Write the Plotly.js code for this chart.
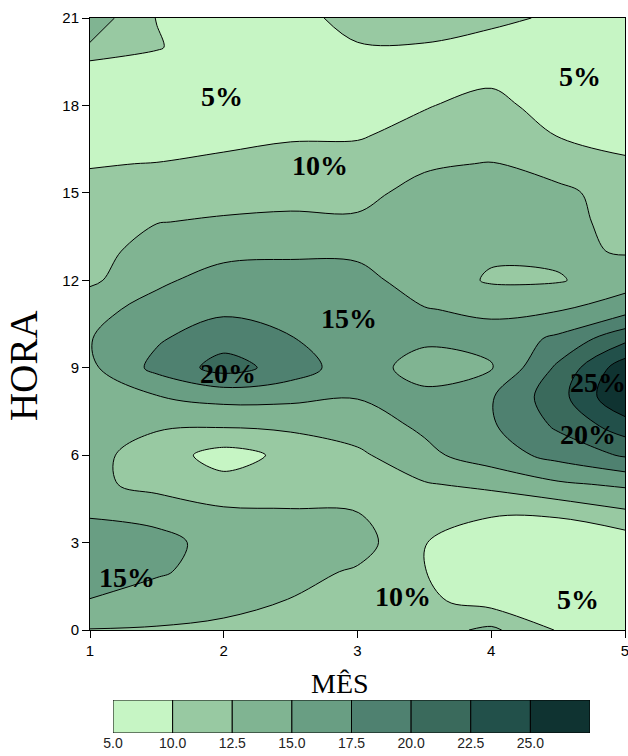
<!DOCTYPE html>
<html>
<head>
<meta charset="utf-8">
<script src="https://cdn.plot.ly/plotly-3.0.1.min.js"></script>
<style>
  html, body { margin: 0; padding: 0; background: #ffffff; }
  #chart { width: 628px; height: 756px; }
</style>
</head>
<body>
<div id="chart"></div>
<script>
// ---- data ----
const months = [1, 1.5, 2, 2.5, 3, 3.5, 4, 4.5, 5];
const hours = [0,1,2,3,4,5,6,7,8,9,10,11,12,13,14,15,16,17,18,19,20,21];

// frequency (%) along the hours, one list per month column
const zMonth1_0 = [12.4,14.9,16.2,16.0,14.8,13.0,13.3,13.6,14.0,14.5,14.9,14.3,12.0,11.8,11.3,11.0,9.8,7.0,6.5,7.5,12.2,14.0];
const zMonth1_5 = [12.3,13.8,15.3,16.0,14.0,11.8,11.2,12.8,14.9,18.2,17.2,15.8,14.6,13.3,12.45,11.2,10.1,8.0,6.5,7.5,10.3,9.9];
const zMonth2_0 = [11.8,13.5,14.0,13.8,13.0,10.8,9.0,12.7,15.8,21.0,19.0,17.0,15.9,14.4,12.7,11.8,11.0,8.5,6.0,6.5,7.5,8.5];
const zMonth2_5 = [11.5,12.4,13.3,13.5,12.8,11.0,10.6,13.0,15.6,19.0,17.6,16.5,16.0,14.6,12.8,12.0,11.5,9.5,6.0,6.5,8.0,9.0];
const zMonth3_0 = [11.2,11.8,12.2,13.6,12.55,11.5,12.0,13.8,15.1,15.8,16.5,16.3,15.7,14.6,12.8,11.9,11.2,9.7,6.5,7.5,9.8,11.0];
const zMonth3_5 = [11.5,10.5,10.1,10.1,11.2,12.3,14.4,15.4,15.4,14.3,15.3,15.1,14.0,13.9,13.6,13.2,12.2,11.0,9.8,8.0,9.8,11.2];
const zMonth4_0 = [13.0,9.0,7.0,8.0,10.3,13.1,16.3,17.2,17.3,14.8,15.8,14.6,12.2,12.9,13.8,13.5,12.6,11.5,11.0,9.3,9.0,10.6];
const zMonth4_5 = [9.8,6.0,5.5,6.6,10.6,14.6,18.3,20.4,21.5,20.5,18.0,14.8,12.3,13.0,13.5,13.3,11.0,9.9,8.5,6.0,7.0,9.6];
const zMonth5_0 = [6.0,5.5,6.0,8.5,12.0,15.4,20.3,23.8,27.5,26.5,21.8,16.5,13.8,12.3,11.5,11.0,10.4,9.0,6.5,6.0,6.5,7.5];

// contour levels and legend
const levelStart = 10.0;
const levelEnd = 25.0;
const levelStep = 2.5;
const legendLabels = ['5.0','10.0','12.5','15.0','17.5','20.0','22.5','25.0'];
const bandColors = ['#c6f5c4','#98c9a2','#80b492','#699e83','#4f8170','#3a6a5c','#22504a','#0f3331'];

const yTicks = [0,3,6,9,12,15,18,21];
const xTicks = [1,2,3,4,5];

const xTitle = 'MÊS';
const yTitle = 'HORA';

// contour labels
const labelTexts = ['5%','5%','10%','15%','20%','25%','20%','15%','10%','5%'];
const labelMonth = [1.99,4.66,2.72,2.94,2.03,4.80,4.72,1.28,3.34,4.65];
const labelHour  = [18.3,19.0,15.95,10.7,8.8,8.5,6.7,1.8,1.15,1.05];

// ---- build ----
const columns = [zMonth1_0,zMonth1_5,zMonth2_0,zMonth2_5,zMonth3_0,zMonth3_5,zMonth4_0,zMonth4_5,zMonth5_0];
const z = hours.map((h, i) => columns.map(col => col[i]));

const nb = bandColors.length;
const colorscale = [];
bandColors.forEach((c, i) => {
  const lo = Math.max(0, (i - 0.5) / (nb - 1));
  const hi = Math.min(1, (i + 0.5) / (nb - 1));
  colorscale.push([lo, c]);
  colorscale.push([hi, c]);
});

const contour = {
  type: 'contour',
  x: months,
  y: hours,
  z: z,
  xaxis: 'x',
  yaxis: 'y',
  autocontour: false,
  contours: { start: levelStart, end: levelEnd, size: levelStep, coloring: 'fill', showlines: true },
  line: { color: '#000000', width: 1, smoothing: 1 },
  colorscale: colorscale,
  showscale: false,
  hoverinfo: 'skip'
};

const legendIdx = legendLabels.map((_, i) => i);
const legendBars = {
  type: 'bar',
  x: legendIdx,
  y: legendIdx.map(() => 1),
  width: legendIdx.map(() => 1),
  xaxis: 'x2',
  yaxis: 'y2',
  marker: { color: bandColors, line: { color: '#000000', width: 1 } },
  cliponaxis: false,
  hoverinfo: 'skip',
  showlegend: false
};

const serif = '"Liberation Serif", "Times New Roman", serif';
const sans = '"Liberation Sans", Arial, sans-serif';

const annotations = labelTexts.map((t, i) => ({
  x: labelMonth[i], y: labelHour[i], xref: 'x', yref: 'y',
  text: '<b>' + t + '</b>', showarrow: false,
  font: { family: serif, size: 28, color: '#000000' }
}));

// axis titles placed where the reference shows them
annotations.push({
  xref: 'paper', yref: 'paper', x: -0.1234, y: 0.5234,
  xanchor: 'center', yanchor: 'middle', textangle: -90,
  text: yTitle, showarrow: false,
  font: { family: serif, size: 39, color: '#000000' }
});
annotations.push({
  xref: 'paper', yref: 'paper', x: 0.4673, y: 0.0852,
  xanchor: 'center', yanchor: 'middle',
  text: xTitle, showarrow: false,
  font: { family: serif, size: 28, color: '#000000' }
});

const layout = {
  width: 628,
  height: 756,
  margin: { l: 90, r: 3, t: 18, b: 10 },
  paper_bgcolor: '#ffffff',
  plot_bgcolor: '#ffffff',
  showlegend: false,
  bargap: 0,
  xaxis: {
    domain: [0, 1], anchor: 'y', range: [1, 5],
    tickmode: 'array', tickvals: xTicks, ticktext: xTicks.map(String),
    ticks: 'outside', ticklen: 7, tickcolor: '#000', tickwidth: 1,
    ticklabeloverflow: 'allow',
    showline: true, mirror: true, linecolor: '#000', linewidth: 1,
    showgrid: false, zeroline: false,
    tickfont: { family: sans, size: 15, color: '#000' }
  },
  yaxis: {
    domain: [0.1593, 1], anchor: 'x', range: [0, 21],
    tickmode: 'array', tickvals: yTicks, ticktext: yTicks.map(String),
    ticks: 'outside', ticklen: 7, tickcolor: '#000', tickwidth: 1,
    showline: true, mirror: true, linecolor: '#000', linewidth: 1,
    showgrid: false, zeroline: false,
    tickfont: { family: sans, size: 15, color: '#000' }
  },
  xaxis2: {
    domain: [0.043, 0.9346], anchor: 'y2', range: [-0.5, 7.5],
    tickmode: 'array', tickvals: legendIdx.map(i => i - 0.5), ticktext: legendLabels,
    ticks: '', ticklabeloverflow: 'allow',
    showline: false, showgrid: false, zeroline: false, fixedrange: true,
    tickfont: { family: sans, size: 14, color: '#222' }
  },
  yaxis2: {
    domain: [0.01786, 0.0632], anchor: 'x2', range: [0, 1],
    visible: false, fixedrange: true
  },
  annotations: annotations
};

Plotly.newPlot('chart', [contour, legendBars], layout, { displayModeBar: false, staticPlot: true });
</script>
</body>
</html>
